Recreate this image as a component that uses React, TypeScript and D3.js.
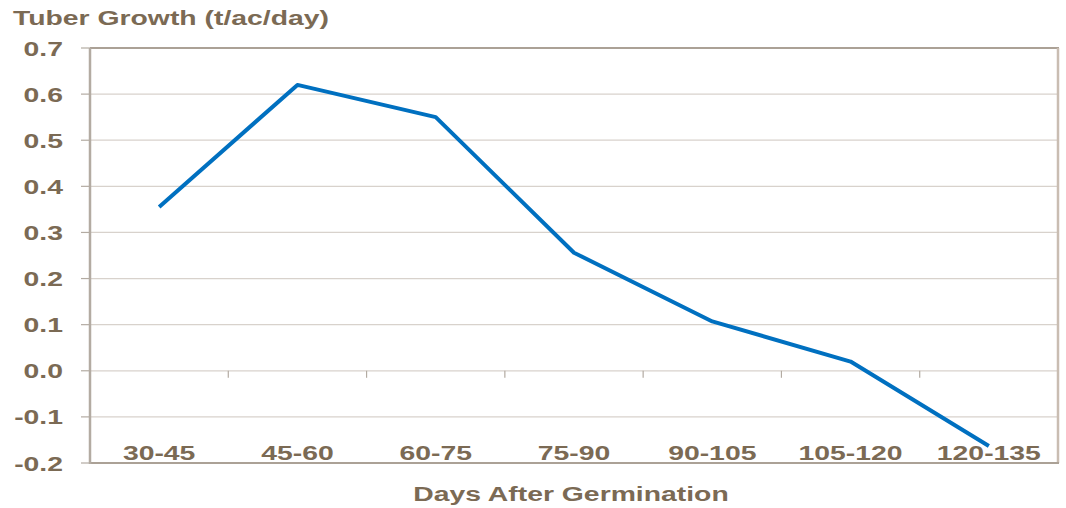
import React from "react";
import * as d3 from "d3";

const categories = ["30-45", "45-60", "60-75", "75-90", "90-105", "105-120", "120-135"];
const values = [0.355, 0.62, 0.55, 0.256, 0.107, 0.02, -0.163];
const yTicks = [-0.2, -0.1, 0.0, 0.1, 0.2, 0.3, 0.4, 0.5, 0.6, 0.7];

const W = 1066, H = 508;
const M = { left: 90, right: 1058, top: 48, bottom: 463 };
const textColor = "#7b6a54";
const font = "'Liberation Sans', Arial, sans-serif";
const SX = 1.35;

function T({ x, y, anchor = "start", children, dy }: { x: number; y: number; anchor?: string; children: React.ReactNode; dy?: string }) {
  return (
    <text transform={`translate(${x},${y}) scale(${SX},1)`} dy={dy} textAnchor={anchor} fontSize={21} fontWeight="bold" fill={textColor}>
      {children}
    </text>
  );
}

export default function App() {
  const x = d3.scaleBand<string>().domain(categories).range([M.left, M.right]).padding(0);
  const y = d3.scaleLinear().domain([-0.2, 0.7]).range([M.bottom, M.top]);
  const line = d3.line<number>()
    .x((_, i) => (x(categories[i]) as number) + x.bandwidth() / 2)
    .y((d) => y(d));
  const y0 = y(0);
  return (
    <svg width={W} height={H} style={{ position: "absolute", left: 0, top: 0, background: "#fff" }} fontFamily={font}>
      {yTicks.filter(t => t !== -0.2 && t !== 0.7).map((t) => (
        <line key={"g" + t} x1={M.left} x2={M.right} y1={y(t)} y2={y(t)} stroke="#d8d2cc" strokeWidth={1.2} />
      ))}
      {yTicks.map((t) => (
        <line key={"t" + t} x1={M.left - 9} x2={M.left} y1={y(t)} y2={y(t)} stroke="#b3aba2" strokeWidth={1.2} />
      ))}
      {categories.slice(1).map((c) => (
        <line key={"c" + c} x1={x(c) as number} x2={x(c) as number} y1={y0} y2={y0 + 7} stroke="#b3aba2" strokeWidth={1.2} />
      ))}
      <line x1={M.right} x2={M.right} y1={y0} y2={y0 + 7} stroke="#b3aba2" strokeWidth={1.2} />
      <line x1={M.left} x2={M.right + 1} y1={M.top} y2={M.top} stroke="#aba196" strokeWidth={2} />
      <line x1={M.right} x2={M.right} y1={M.top} y2={M.bottom} stroke="#c9bdb2" strokeWidth={2.5} />
      <line x1={M.left} x2={M.right + 1} y1={M.bottom} y2={M.bottom} stroke="#aba196" strokeWidth={2} />
      <line x1={M.left} x2={M.left} y1={M.top} y2={M.bottom + 1} stroke="#b3aba2" strokeWidth={2.5} />
      {yTicks.map((t) => (
        <T key={"l" + t} x={63} y={y(t)} dy="0.36em" anchor="end">{t.toFixed(1)}</T>
      ))}
      {categories.map((c) => (
        <T key={"x" + c} x={(x(c) as number) + x.bandwidth() / 2} y={M.bottom - 3} anchor="middle">{c}</T>
      ))}
      <path d={line(values) || ""} fill="none" stroke="#0070c0" strokeWidth={4} strokeLinejoin="round" />
      <T x={13} y={25}>Tuber Growth (t/ac/day)</T>
      <T x={571} y={501} anchor="middle">Days After Germination</T>
    </svg>
  );
}
